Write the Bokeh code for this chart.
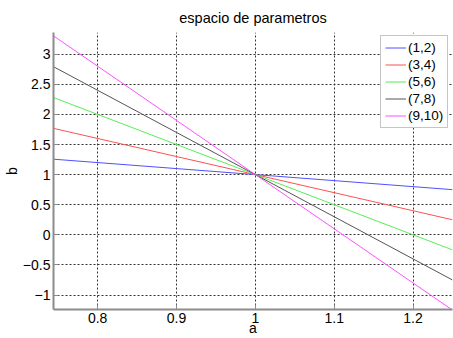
from bokeh.plotting import figure
from bokeh.models import Legend, LegendItem, Range1d, FixedTicker
from bokeh.embed import file_html
from bokeh.resources import INLINE

# data: each line's b value at the left and right edge of a
a_vals = [0.744, 1.25]
labels = ["(1,2)", "(3,4)", "(5,6)", "(7,8)", "(9,10)"]
b_vals = [
    [1.256, 0.75],
    [1.768, 0.25],
    [2.28, -0.25],
    [2.792, -0.75],
    [3.304, -1.25],
]
colors = ["#5050ff", "#ff5050", "#55ee55", "#555555", "#ff50ff"]
x_ticks = [0.8, 0.9, 1.0, 1.1, 1.2]
y_ticks = [-1, -0.5, 0, 0.5, 1, 1.5, 2, 2.5, 3]

FONT = "Liberation Sans"

p = figure(width=453, height=338, output_backend="svg", toolbar_location=None,
           x_range=Range1d(0.744, 1.25), y_range=Range1d(-1.24, 3.36),
           title="espacio de parametros",
           min_border_left=53, min_border_right=1, min_border_top=30, min_border_bottom=29)

p.title.align = "center"
p.title.text_font = FONT
p.title.text_font_size = "14.5px"
p.title.text_font_style = "normal"
p.title.text_color = "#000000"
p.title.offset = 0
p.title.standoff = 14

p.outline_line_color = None
p.background_fill_color = "white"
p.border_fill_color = "white"

for ax in (p.xaxis[0], p.yaxis[0]):
    ax.axis_line_color = "#8c8c8c"
    ax.axis_line_width = 2
    ax.major_tick_in = 5
    ax.major_tick_out = 0
    ax.major_tick_line_color = "#8c8c8c"
    ax.minor_tick_line_color = None
    ax.major_label_text_font = FONT
    ax.major_label_text_font_size = "14px"
    ax.major_label_text_color = "#000000"
    ax.major_label_standoff = 3
    ax.axis_label_text_font = FONT
    ax.axis_label_text_font_size = "14px"
    ax.axis_label_text_font_style = "normal"
    ax.axis_label_text_color = "#000000"

p.xaxis[0].ticker = FixedTicker(ticks=x_ticks)
p.yaxis[0].ticker = FixedTicker(ticks=y_ticks)
p.xaxis[0].axis_label = "a"
p.yaxis[0].axis_label = "b"
p.xaxis[0].axis_label_standoff = -6
p.yaxis[0].axis_label_standoff = 0

for g in (p.xgrid[0], p.ygrid[0]):
    g.grid_line_color = "#333333"
    g.grid_line_dash = "2 2"
    g.grid_line_width = 1

items = []
for lab, bv, c in zip(labels, b_vals, colors):
    r = p.line(a_vals, bv, line_color=c, line_width=1)
    items.append(LegendItem(label=lab, renderers=[r]))

legend = Legend(items=items, location=(327, 181))
legend.label_text_font = FONT
legend.label_text_font_size = "13.5px"
legend.label_text_color = "#000000"
legend.border_line_color = "#8c8c8c"
legend.border_line_width = 1
legend.background_fill_color = "white"
legend.background_fill_alpha = 1
legend.glyph_width = 21
legend.glyph_height = 15
legend.label_height = 15
legend.label_standoff = 2
legend.spacing = 2
legend.padding = 4
legend.margin = 0
p.add_layout(legend)

open("out.html", "w").write(file_html(p, INLINE))
